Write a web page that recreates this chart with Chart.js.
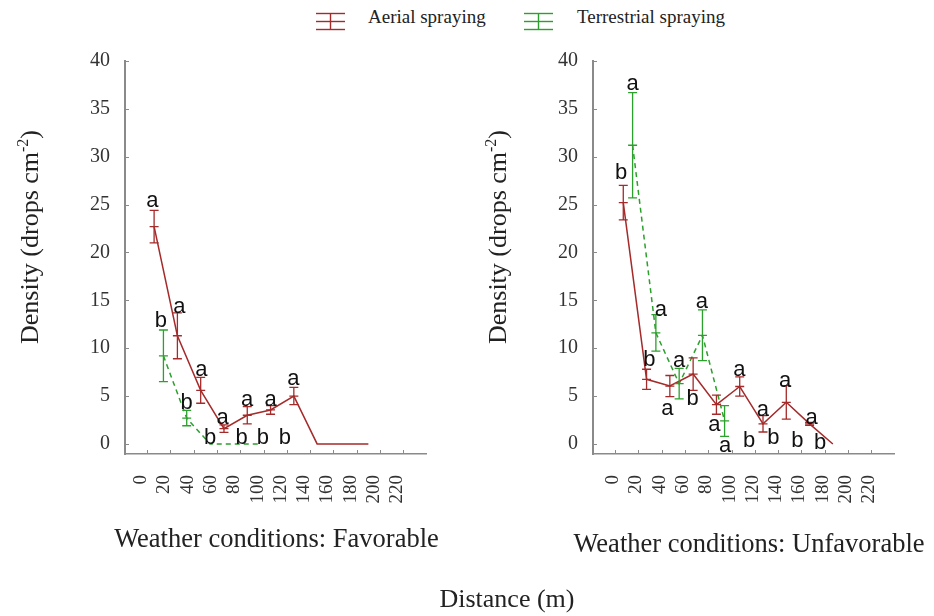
<!DOCTYPE html>
<html>
<head>
<meta charset="utf-8">
<script src="https://cdn.jsdelivr.net/npm/chart.js@4.4.1/dist/chart.umd.min.js"></script>
<style>
  body { margin: 0; background: #fff; }
  #page { position: relative; width: 934px; height: 616px; overflow: hidden; font-family: "Liberation Serif", serif; color: #222; }
  .chart-box { position: absolute; top: 0; width: 467px; height: 616px; }
  .legend-icon { position: absolute; top: 12px; }
  .legend-text { position: absolute; top: 7px; font-size: 19px; line-height: 19px; white-space: nowrap; }
  #x-title { position: absolute; left: 407px; top: 586px; width: 200px; text-align: center; font-size: 26px; line-height: 26px; }
</style>
</head>
<body>
<div id="page">
  <svg class="legend-icon" style="left:316px" width="30" height="19">
    <g stroke="#a52a2a" stroke-width="1.4"><line x1="0" y1="1.5" x2="29" y2="1.5"/><line x1="0" y1="9.5" x2="29" y2="9.5"/><line x1="0" y1="17.5" x2="29" y2="17.5"/><line x1="14.5" y1="1.5" x2="14.5" y2="17.5"/></g>
  </svg>
  <div class="legend-text" style="left:368px">Aerial spraying</div>
  <svg class="legend-icon" style="left:524px" width="30" height="19">
    <g stroke="#2ca02c" stroke-width="1.4"><line x1="0" y1="1.5" x2="29" y2="1.5"/><line x1="0" y1="9.5" x2="29" y2="9.5"/><line x1="0" y1="17.5" x2="29" y2="17.5"/><line x1="14.5" y1="1.5" x2="14.5" y2="17.5"/></g>
  </svg>
  <div class="legend-text" style="left:577px">Terrestrial spraying</div>

  <div class="chart-box" style="left:0"><canvas id="chart-fav"></canvas></div>
  <div class="chart-box" style="left:468px"><canvas id="chart-unfav"></canvas></div>
  <div id="x-title">Distance (m)</div>
</div>

<script>
// ticks
const distanceTicks = [0, 20, 40, 60, 80, 100, 120, 140, 160, 180, 200, 220];
const densityTicks = [0, 5, 10, 15, 20, 25, 30, 35, 40];

// Favorable weather
const favAerialX = [6, 26, 46, 66, 86, 106, 126, 146, 190];
const favAerialY = [22.7, 11.3, 5.6, 1.6, 3.0, 3.55, 5.0, 0, 0];
const favAerialErr = [1.7, 2.4, 1.35, 0.4, 0.9, 0.45, 0.9, 0, 0];
const favTerrX = [14, 34, 54, 75, 97];
const favTerrY = [9.2, 2.7, 0, 0, 0];
const favTerrErr = [2.7, 0.8, 0, 0, 0];
const favLetters = [
  [4.5, 25.5, 'a'], [27.7, 14.5, 'a'], [11.9, 12.9, 'b'], [46.5, 7.9, 'a'], [34, 4.25, 'b'],
  [64.9, 2.85, 'a'], [85.8, 4.8, 'a'], [106.1, 4.8, 'a'], [125.6, 6.9, 'a'],
  [54, 0.6, 'b'], [81.2, 0.6, 'b'], [99.3, 0.6, 'b'], [118.4, 0.6, 'b']
];

// Unfavorable weather
const unfavAerialX = [7, 27, 47, 67, 87, 107, 127, 147, 167, 187];
const unfavAerialY = [25.2, 6.75, 6.05, 7.3, 4.1, 6.0, 2.1, 4.35, 2.1, 0];
const unfavAerialErr = [1.8, 1.05, 1.1, 1.7, 1.0, 1.0, 0.85, 1.75, 0.15, 0];
const unfavTerrX = [15, 35, 55, 75, 94];
const unfavTerrY = [31.2, 11.6, 6.3, 11.35, 2.4];
const unfavTerrErr = [5.5, 1.9, 1.6, 2.65, 1.6];
const unfavLetters = [
  [5.1, 28.3, 'b'], [15.1, 37.8, 'a'], [39.2, 14.2, 'a'], [29.4, 8.8, 'b'], [54.9, 8.8, 'a'],
  [44.8, 3.8, 'a'], [74.4, 15.0, 'a'], [66.6, 4.7, 'b'], [85.2, 2.1, 'a'], [94.4, -0.1, 'a'],
  [106.7, 7.9, 'a'], [115, 0.35, 'b'], [126.8, 3.7, 'a'], [135.9, 0.6, 'b'], [145.9, 6.75, 'a'],
  [156.5, 0.35, 'b'], [168.8, 2.85, 'a'], [176, 0.1, 'b']
];

const RED = '#a52a2a';
const GREEN = '#2ca02c';
const AXIS = '#8a8a8a';
const SERIF = '"Liberation Serif", serif';

const toPoints = (xs, ys) => xs.map((x, i) => ({ x, y: ys[i] }));

// error bars: vertical line with caps and a tick at the mean
const errorBars = {
  id: 'errorBars',
  afterDatasetsDraw(chart) {
    const { ctx, scales: { x, y } } = chart;
    chart.data.datasets.forEach(ds => {
      if (!ds.errors) return;
      ctx.save();
      ctx.strokeStyle = ds.borderColor;
      ctx.lineWidth = 1.3;
      ctx.beginPath();
      ds.data.forEach((p, j) => {
        const e = ds.errors[j];
        if (!e) return;
        const px = x.getPixelForValue(p.x);
        const top = y.getPixelForValue(p.y + e);
        const mid = y.getPixelForValue(p.y);
        const bot = y.getPixelForValue(p.y - e);
        ctx.moveTo(px, top); ctx.lineTo(px, bot);
        [top, mid, bot].forEach(yy => { ctx.moveTo(px - 4.5, yy); ctx.lineTo(px + 4.5, yy); });
      });
      ctx.stroke();
      ctx.restore();
    });
  }
};

// small tick marks pointing into the plot
const innerTicks = {
  id: 'innerTicks',
  afterDraw(chart) {
    const { ctx, scales: { x, y } } = chart;
    ctx.save();
    ctx.strokeStyle = AXIS;
    ctx.lineWidth = 1;
    ctx.beginPath();
    distanceTicks.forEach(v => {
      const px = Math.round(x.getPixelForValue(v)) + 0.5;
      ctx.moveTo(px, x.top); ctx.lineTo(px, x.top - 4);
    });
    densityTicks.forEach(v => {
      const py = Math.round(y.getPixelForValue(v)) + 0.5;
      ctx.moveTo(y.right, py); ctx.lineTo(y.right + 4, py);
    });
    ctx.stroke();
    ctx.restore();
  }
};

// significance letters
const letters = {
  id: 'letters',
  afterDatasetsDraw(chart, args, opts) {
    const { ctx, scales: { x, y } } = chart;
    ctx.save();
    ctx.font = '22px "Liberation Sans", Arial, sans-serif';
    ctx.fillStyle = '#111';
    ctx.textAlign = 'center';
    ctx.textBaseline = 'middle';
    (opts.items || []).forEach(([vx, vy, t]) => {
      ctx.fillText(t, x.getPixelForValue(vx), y.getPixelForValue(vy) + (t === 'a' ? 1.5 : 0));
    });
    ctx.restore();
  }
};

// axis titles: rotated y title with superscript, x title under the ticks
const axisTitles = {
  id: 'axisTitles',
  afterDraw(chart, args, opts) {
    const { ctx, chartArea, scales: { y } } = chart;
    ctx.save();
    ctx.fillStyle = '#222';
    ctx.textBaseline = 'alphabetic';

    ctx.font = '26.5px ' + SERIF;
    ctx.textAlign = 'center';
    ctx.fillText(opts.xText, (chartArea.left + chartArea.right) / 2 + opts.xShift, opts.xBaseline);

    const main = 'Density (drops cm', sup = '-2', end = ')';
    ctx.translate(y.right - 87, 237);
    ctx.rotate(-Math.PI / 2);
    ctx.textAlign = 'left';
    ctx.font = '26px ' + SERIF;
    const w1 = ctx.measureText(main).width;
    const w3 = ctx.measureText(end).width;
    ctx.font = '16px ' + SERIF;
    const w2 = ctx.measureText(sup).width;
    const sx = -(w1 + w2 + w3) / 2;
    ctx.font = '26px ' + SERIF;
    ctx.fillText(main, sx, 0);
    ctx.font = '16px ' + SERIF;
    ctx.fillText(sup, sx + w1, -10);
    ctx.font = '26px ' + SERIF;
    ctx.fillText(end, sx + w1 + w2, 0);
    ctx.restore();
  }
};

function renderPanel(id, title, titleBaseline, titleShift, labelOffset, aerial, terr, letterItems) {
  const ctx = document.getElementById(id);
  return new Chart(ctx, {
    type: 'line',
    data: {
      datasets: [{
        label: 'Aerial spraying',
        data: aerial.points,
        errors: aerial.errors,
        borderColor: RED,
        borderWidth: 1.5,
        pointRadius: 0,
        tension: 0
      }, {
        label: 'Terrestrial spraying',
        data: terr.points,
        errors: terr.errors,
        borderColor: GREEN,
        borderWidth: 1.5,
        borderDash: [5, 4],
        pointRadius: 0,
        tension: 0
      }]
    },
    options: {
      responsive: false,
      animation: false,
      layout: { padding: { left: 0, top: 61, right: 41, bottom: 0 } },
      plugins: {
        legend: { display: false },
        tooltip: { enabled: false },
        letters: { items: letterItems },
        axisTitles: { xText: title, xBaseline: titleBaseline, xShift: titleShift }
      },
      scales: {
        x: {
          type: 'linear',
          min: -19,
          max: 239.5,
          afterBuildTicks: s => { s.ticks = distanceTicks.map(v => ({ value: v })); },
          afterFit: s => { s.height = 162; },
          grid: { display: false, drawTicks: false },
          border: { color: AXIS, width: 1.5 },
          ticks: {
            autoSkip: false, minRotation: 90, maxRotation: 90, padding: 21, labelOffset,
            color: '#333', font: { family: SERIF, size: 19 }
          }
        },
        y: {
          min: -1.05,
          max: 40,
          afterBuildTicks: s => { s.ticks = densityTicks.map(v => ({ value: v })); },
          afterFit: s => { s.width = 125; },
          grid: { display: false, drawTicks: false },
          border: { color: AXIS, width: 2 },
          ticks: { padding: 15, color: '#333', font: { family: SERIF, size: 20 } }
        }
      }
    },
    plugins: [errorBars, innerTicks, letters, axisTitles]
  });
}

document.querySelectorAll('canvas').forEach(c => { c.width = 467; c.height = 616; });

renderPanel('chart-fav', 'Weather conditions: Favorable', 547, 1, -6,
  { points: toPoints(favAerialX, favAerialY), errors: favAerialErr },
  { points: toPoints(favTerrX, favTerrY), errors: favTerrErr },
  favLetters);

renderPanel('chart-unfav', 'Weather conditions: Unfavorable', 551.5, 5.5, -2,
  { points: toPoints(unfavAerialX, unfavAerialY), errors: unfavAerialErr },
  { points: toPoints(unfavTerrX, unfavTerrY), errors: unfavTerrErr },
  unfavLetters);
</script>
</body>
</html>
